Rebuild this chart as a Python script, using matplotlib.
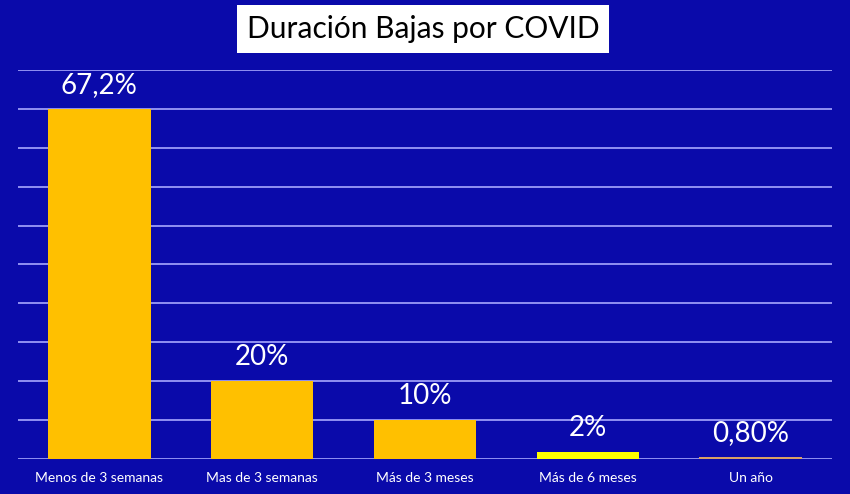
import matplotlib
matplotlib.use('Agg')
import matplotlib.pyplot as plt

# datos
categorias = ['Menos de 3 semanas', 'Mas de 3 semanas', 'Más de 3 meses', 'Más de 6 meses', 'Un año']
alturas = [90, 20, 10, 1.8, 0.6]          # altura dibujada de cada barra
etiquetas = ['67,2%', '20%', '10%', '2%', '0,80%']
colores = ['#FFC000', '#FFC000', '#FFC000', '#FFFF00', '#D9A066']

fondo = '#0a0aaa'
plt.rcParams['font.family'] = ['Lato', 'DejaVu Sans']

fig = plt.figure(figsize=(8.5, 4.94), dpi=100)
fig.patch.set_facecolor(fondo)
ax = fig.add_axes([18 / 850, 35 / 494, 814 / 850, 389 / 494])
ax.set_facecolor(fondo)

x = range(len(categorias))
barras = ax.bar(x, alturas, width=0.63, color=colores, zorder=3)

for b, txt in zip(barras, etiquetas):
    ax.annotate(txt, (b.get_x() + b.get_width() / 2, b.get_height()),
                xytext=(0, 8), textcoords='offset points',
                ha='center', va='bottom', color='white', fontsize=20)

ax.set_xlim(-0.5, 4.5)
ax.set_ylim(0, 100)
ax.set_yticks(range(0, 101, 10))
ax.set_yticklabels([])
ax.grid(axis='y', color='#a8a8ff', linewidth=1.2, zorder=0)
ax.tick_params(axis='both', length=0)
ax.set_xticks(list(x))
ax.set_xticklabels(categorias, color='white', fontsize=10)
ax.tick_params(axis='x', pad=9)
for s in ax.spines.values():
    s.set_visible(False)

fig.text(0.498, 1 - 29 / 494, 'Duración Bajas por COVID', ha='center', va='center',
         fontsize=21.5, color='black',
         bbox=dict(boxstyle='square,pad=0.32', facecolor='white', edgecolor='none'))

fig.savefig('out.png', dpi=100, facecolor=fondo)
